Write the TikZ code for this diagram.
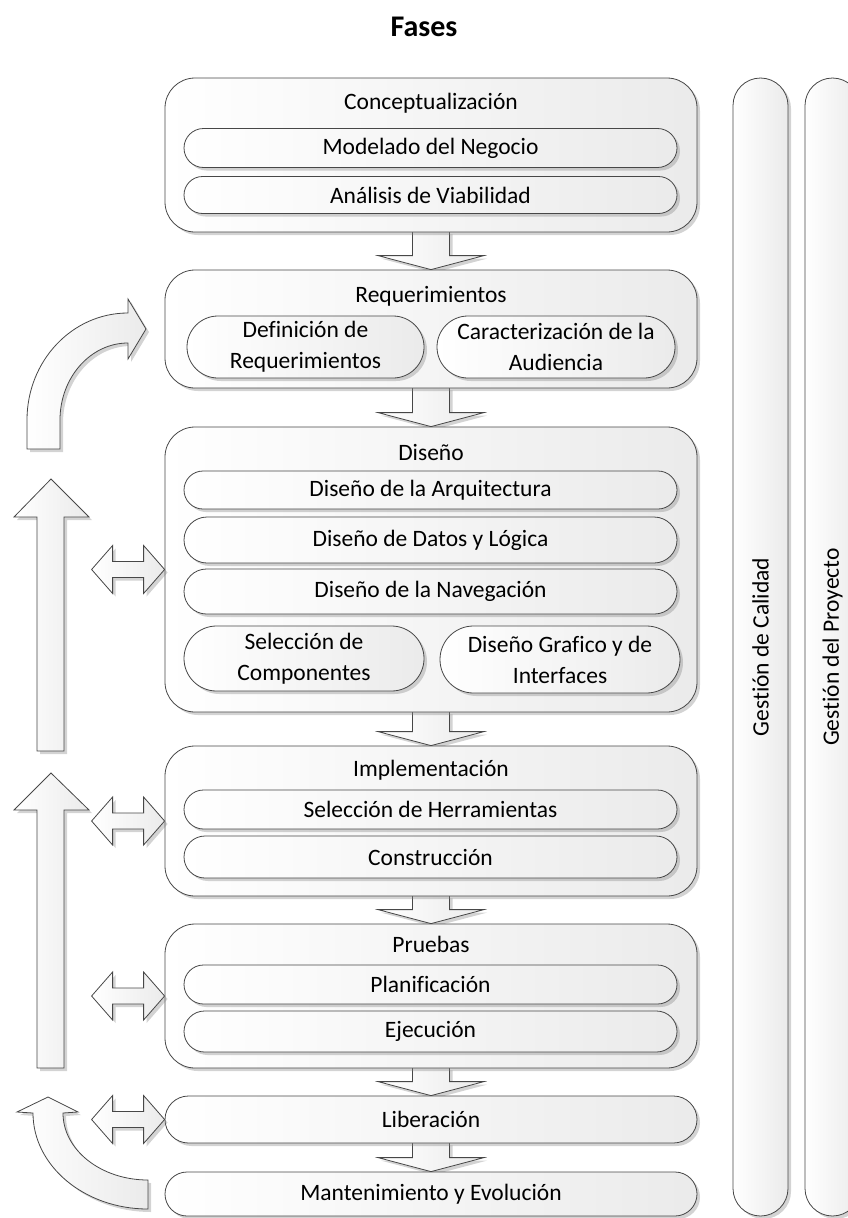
\documentclass[tikz,border=0pt]{standalone}
\usepackage{fontspec}
\setmainfont[Ligatures=NoCommon]{Carlito}
\usetikzlibrary{calc,shadows,backgrounds}

\tikzset{
  edge/.style={draw=black!72, line width=0.8pt},
  soft/.style={left color=white, right color=black!8},
  shade/.style={drop shadow={shadow xshift=3pt, shadow yshift=-3pt, opacity=0.35, fill=black!50}},
  phase/.style={edge, soft, shade, rectangle, rounded corners=30pt, inner sep=0pt,
    minimum width=532pt},
  task/.style={edge, soft, shade, rectangle, inner sep=0pt, align=center,
    font=\fontsize{23.5}{31}\selectfont},
  txt/.style={inner sep=0pt, align=center, font=\fontsize{23.5}{28}\selectfont},
  bigarrow/.style={edge, soft, shade, line join=miter},
}

% arrow from the bottom of one phase into the top of the next
\newcommand\flowdown[2]{%
  \path[bigarrow] let \p1=(#1.south), \p2=(#2.north) in
    (\x1-18.5pt,\y1+1pt) -- (\x1-18.5pt,\y2+14pt) -- (\x1-53pt,\y2+14pt)
    -- (\x1,\y2) -- (\x1+53pt,\y2+14pt) -- (\x1+18.5pt,\y2+14pt)
    -- (\x1+18.5pt,\y1+1pt);}

% two-headed arrow touching the left side of a phase
\newcommand\twoway[1]{%
  \path[bigarrow] (#1.west) -- ++(-21pt,24pt) -- ++(0pt,-16pt) -- ++(-31pt,0pt)
    -- ++(0pt,16pt) -- ++(-21pt,-24pt) -- ++(21pt,-24pt) -- ++(0pt,16pt)
    -- ++(31pt,0pt) -- ++(0pt,-16pt) -- cycle;}

\begin{document}
\begin{tikzpicture}[x=1pt,y=-1pt]
\useasboundingbox (0,0) rectangle (847,1218);

\node[inner sep=0pt, font=\fontsize{30}{36}\selectfont\bfseries] (title) at (424,27) {Fases};

% phases
\node[phase, minimum height=154pt] (concept) at (431,155) {};
\node[txt] (conceptT) at (431,103) {Conceptualización};
\node[task, minimum width=493pt, minimum height=39pt, rounded corners=19.5pt] (negocio) at (430.5,148) {Modelado del Negocio};
\node[task, minimum width=493pt, minimum height=37pt, rounded corners=18.5pt] (viab) at (430.5,195) {Análisis de Viabilidad};

\node[phase, minimum height=118pt] (req) at (431,329) {};
\node[txt] (reqT) at (431,296) {Requerimientos};
\node[task, minimum width=237pt, minimum height=62pt, rounded corners=31pt] (defreq) at (305.5,347) {Definición de\\Requerimientos};
\node[task, minimum width=238pt, minimum height=62pt, rounded corners=31pt] (audi) at (556,347) {Caracterización de la\\Audiencia};

\node[phase, minimum height=285pt] (dis) at (431,569.5) {};
\node[txt] (disT) at (431,452) {Diseño};
\node[task, minimum width=493pt, minimum height=38pt, rounded corners=19pt] (arq) at (430.5,490) {Diseño de la Arquitectura};
\node[task, minimum width=493pt, minimum height=46pt, rounded corners=23pt] (datos) at (430.5,540) {Diseño de Datos y Lógica};
\node[task, minimum width=493pt, minimum height=45pt, rounded corners=22.5pt] (nav) at (430.5,591.5) {Diseño de la Navegación};
\node[task, minimum width=240pt, minimum height=65pt, rounded corners=32.5pt] (comp) at (304,658.5) {Selección de\\Componentes};
\node[task, minimum width=240pt, minimum height=67pt, rounded corners=33.5pt] (graf) at (560,659.5) {Diseño Grafico y de\\Interfaces};

\node[phase, minimum height=150pt] (impl) at (431,821) {};
\node[txt] (implT) at (431,770) {Implementación};
\node[task, minimum width=493pt, minimum height=39pt, rounded corners=19.5pt] (herr) at (430.5,809.5) {Selección de Herramientas};
\node[task, minimum width=493pt, minimum height=42pt, rounded corners=21pt] (cons) at (430.5,857) {Construcción};

\node[phase, minimum height=144pt] (prue) at (431,996) {};
\node[txt] (prueT) at (431,944) {Pruebas};
\node[task, minimum width=493pt, minimum height=39pt, rounded corners=19.5pt] (plan) at (430.5,984.5) {Planificación};
\node[task, minimum width=493pt, minimum height=41pt, rounded corners=20.5pt] (ejec) at (430.5,1031.5) {Ejecución};

\node[task, minimum width=532pt, minimum height=47pt, rounded corners=23.5pt] (lib) at (431,1119.5) {Liberación};
\node[task, minimum width=532pt, minimum height=44pt, rounded corners=22pt] (mant) at (431,1194) {Mantenimiento y Evolución};

% management columns
\node[task, minimum width=55pt, minimum height=1138pt, rounded corners=27.5pt] (calidad) at (760.5,647) {};
\node[txt, rotate=90] (calidadT) at (760.5,647) {Gestión de Calidad};
\node[task, minimum width=55pt, minimum height=1138pt, rounded corners=27.5pt] (proy) at (832.5,647) {};
\node[txt, rotate=90] (proyT) at (832.5,647) {Gestión del Proyecto};

\begin{scope}[on background layer]
  \flowdown{concept}{req}
  \flowdown{req}{dis}
  \flowdown{dis}{impl}
  \flowdown{impl}{prue}
  \flowdown{prue}{lib}
  \flowdown{lib}{mant}
\end{scope}

\twoway{dis}
\twoway{impl}
\twoway{prue}
\twoway{lib}

% feedback arrows on the left
\path[bigarrow] (27,449) -- (27,420) .. controls (27,361) and (72,313) .. (128,313)
  -- (128,299) -- (146,329) -- (128,359) -- (128,343)
  .. controls (90.5,343) and (60,377.5) .. (60,420) -- (60,449) -- cycle;
\path[bigarrow] (37,751) -- (37,517) -- (14,517) -- (51,479) -- (89,517) -- (64,517) -- (64,751) -- cycle;
\path[bigarrow] (37,1068) -- (37,810) -- (14,810) -- (51,773) -- (89,810) -- (64,810) -- (64,1068) -- cycle;
\path[bigarrow] (148,1209) .. controls (84.5,1209) and (33,1166) .. (33,1113)
  -- (17,1112) -- (48,1097) -- (78,1112) -- (63,1113)
  .. controls (63,1150) and (101,1180) .. (148,1180) -- cycle;
\end{tikzpicture}
\end{document}
